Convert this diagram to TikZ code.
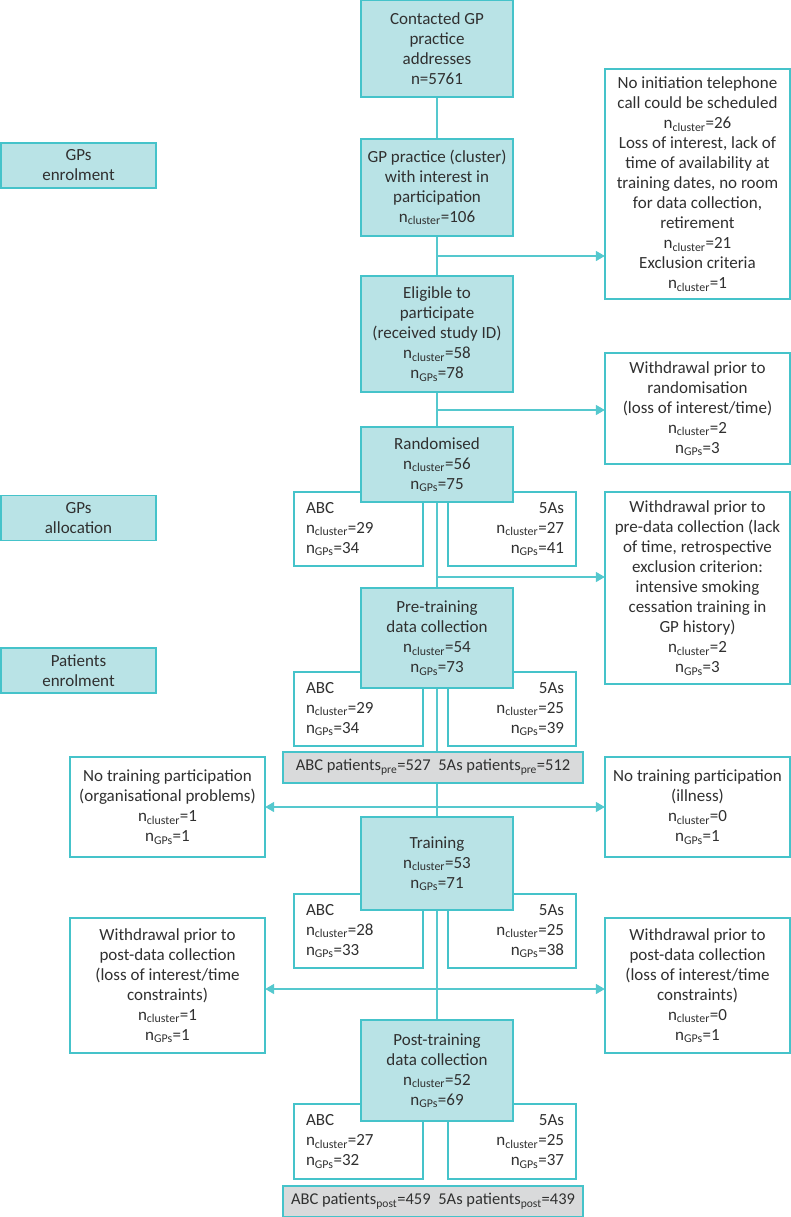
\documentclass[tikz,border=0pt]{standalone}
\usepackage{fontspec}
\setmainfont{Carlito}
\usetikzlibrary{arrows.meta}
\definecolor{tealb}{HTML}{45C3CA}
\definecolor{teall}{HTML}{55C8CE}
\definecolor{tealf}{HTML}{B9E3E6}
\definecolor{grayf}{HTML}{D9DADB}
\definecolor{txt}{HTML}{303030}
\newcommand\nCl[1]{n\textsubscript{cluster}=#1}
\newcommand\nGp[1]{n\textsubscript{GPs}=#1}
\begin{document}
\begin{tikzpicture}[x=1pt,y=-1pt,
  box/.style={draw=tealb, line width=1.3pt, inner sep=0pt, align=center, text=txt,
    font=\fontsize{17}{20}\selectfont},
  mainbox/.style={box, fill=tealf, minimum width=152pt},
  sidebox/.style={box, fill=white, minimum width=185pt},
  leftbox/.style={box, fill=white, minimum width=195pt},
  labbox/.style={box, fill=tealf, minimum width=155pt, minimum height=45pt},
  abcbox/.style={box, fill=white, inner xsep=12pt, text width=105pt, align=left, minimum height=74pt},
  fasbox/.style={box, fill=white, inner xsep=12pt, text width=104pt, align=right, minimum height=74pt},
  graybox/.style={box, fill=grayf, minimum width=300pt, minimum height=31pt, font=\fontsize{16.5}{20}\selectfont},
  conn/.style={draw=teall, line width=1.5pt},
  arr/.style={conn, -{Triangle[length=9pt,width=10pt]}, shorten >=-0.5pt}
]
\useasboundingbox (0,0) rectangle (791,1217);

% left labels
\node[labbox] (lab1) at (78.5,165.5) {GPs\\enrolment};
\node[labbox] (lab2) at (78.5,518) {GPs\\allocation};
\node[labbox] (lab3) at (78.5,670.5) {Patients\\enrolment};

% arm boxes (behind main boxes)
\node[abcbox] (a1) at (358.5,529) {ABC\\\nCl{29}\\\nGp{34}};
\node[fasbox] (f1) at (512,529) {5As\\\nCl{27}\\\nGp{41}};
\node[abcbox] (a2) at (358.5,709) {ABC\\\nCl{29}\\\nGp{34}};
\node[fasbox] (f2) at (512,709) {5As\\\nCl{25}\\\nGp{39}};
\node[abcbox] (a3) at (358.5,931) {ABC\\\nCl{28}\\\nGp{33}};
\node[fasbox] (f3) at (512,931) {5As\\\nCl{25}\\\nGp{38}};
\node[abcbox, minimum height=75pt] (a4) at (358.5,1141.5) {ABC\\\nCl{27}\\\nGp{32}};
\node[fasbox, minimum height=75pt] (f4) at (512,1141.5) {5As\\\nCl{25}\\\nGp{37}};

% main boxes
\node[mainbox, minimum height=97pt] (c1) at (437,48.5) {Contacted GP\\practice\\addresses\\n=5761};
\node[mainbox, minimum height=97pt] (c2) at (437,187.5) {GP practice (cluster)\\with interest in\\participation\\\nCl{106}};
\node[mainbox, minimum height=116pt] (c3) at (437,334) {Eligible to\\participate\\(received study ID)\\\nCl{58}\\\nGp{78}};
\node[mainbox, minimum height=75pt] (c4) at (437,464.5) {Randomised\\\nCl{56}\\\nGp{75}};
\node[mainbox, minimum height=100pt] (c5) at (437,638) {Pre-training\\data collection\\\nCl{54}\\\nGp{73}};
\node[graybox] (g1) at (433,767.5) {ABC patients\textsubscript{pre}=527\hspace{4pt} 5As patients\textsubscript{pre}=512};
\node[mainbox, minimum height=93pt] (c6) at (437,863.5) {Training\\\nCl{53}\\\nGp{71}};
\node[mainbox, minimum height=101pt] (c7) at (437,1070.5) {Post-training\\data collection\\\nCl{52}\\\nGp{69}};
\node[graybox] (g2) at (433,1201.5) {ABC patients\textsubscript{post}=459\hspace{4pt} 5As patients\textsubscript{post}=439};

% side boxes
\node[sidebox, minimum height=230pt] (r1) at (697.5,184) {No initiation telephone\\call could be scheduled\\\nCl{26}\\Loss of interest, lack of\\time of availability at\\training dates, no room\\for data collection,\\retirement\\\nCl{21}\\Exclusion criteria\\\nCl{1}};
\node[sidebox, minimum height=111pt] (r2) at (697.5,408.5) {Withdrawal prior to\\randomisation\\(loss of interest/time)\\\nCl{2}\\\nGp{3}};
\node[sidebox, minimum height=192pt] (r3) at (697.5,588) {Withdrawal prior to\\pre-data collection (lack\\of time, retrospective\\exclusion criterion:\\intensive smoking\\cessation training in\\GP history)\\\nCl{2}\\\nGp{3}};
\node[sidebox, minimum height=100pt] (r4) at (697.5,807) {No training participation\\(illness)\\\nCl{0}\\\nGp{1}};
\node[leftbox, minimum height=100pt] (l4) at (167.5,807) {No training participation\\(organisational problems)\\\nCl{1}\\\nGp{1}};
\node[sidebox, minimum height=135pt] (r5) at (697.5,985.5) {Withdrawal prior to\\post-data collection\\(loss of interest/time\\constraints)\\\nCl{0}\\\nGp{1}};
\node[leftbox, minimum height=135pt] (l5) at (167.5,985.5) {Withdrawal prior to\\post-data collection\\(loss of interest/time\\constraints)\\\nCl{1}\\\nGp{1}};

% trunk
\draw[conn] (c1) -- (c2);
\draw[conn] (c2) -- (c3);
\draw[conn] (c3) -- (c4);
\draw[conn] (c4) -- (c5);
\draw[conn] (c5.south) -- (c5.south |- g1.north);
\draw[conn] (c5.south |- g1.south) -- (c6.north);
\draw[conn] (c6) -- (c7);

% branches
\coordinate (j1) at (437,256);
\coordinate (j2) at (437,410);
\coordinate (j3) at (437,577);
\coordinate (j4) at (437,807);
\coordinate (j5) at (437,989);
\draw[arr] (j1) -- (j1 -| r1.west);
\draw[arr] (j2) -- (j2 -| r2.west);
\draw[arr] (j3) -- (j3 -| r3.west);
\draw[arr] (j4) -- (j4 -| r4.west);
\draw[arr] (j4) -- (j4 -| l4.east);
\draw[arr] (j5) -- (j5 -| r5.west);
\draw[arr] (j5) -- (j5 -| l5.east);
\end{tikzpicture}
\end{document}
